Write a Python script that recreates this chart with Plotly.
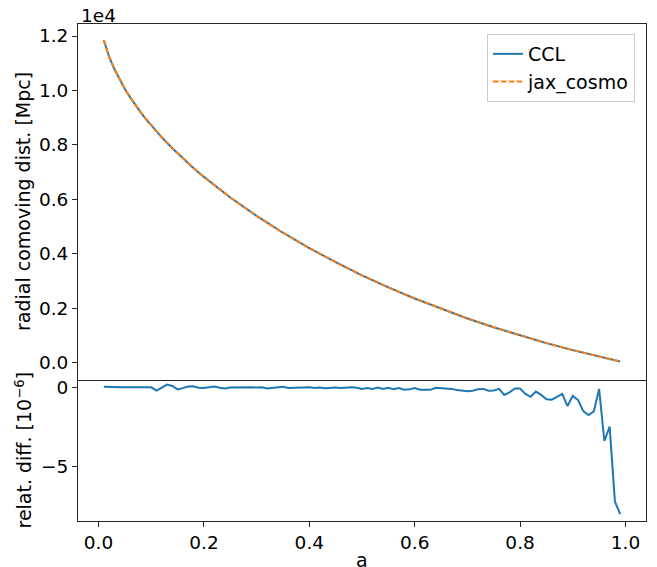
import plotly.graph_objects as go
from plotly.subplots import make_subplots

# ---- data ----
a_top = [0.01, 0.02, 0.03, 0.04, 0.05, 0.06, 0.07, 0.08, 0.09, 0.10,
         0.12, 0.14, 0.16, 0.18, 0.20, 0.25, 0.30, 0.35, 0.40, 0.45,
         0.50, 0.55, 0.60, 0.65, 0.70, 0.75, 0.80, 0.85, 0.90, 0.95, 0.99]
chi_ccl = [11845.5, 11245.8, 10785.6, 10397.7, 10055.9, 9746.9, 9462.9, 9198.5, 8950.2, 8715.5,
           8279.0, 7878.0, 7505.1, 7155.4, 6825.3, 6068.5, 5391.0, 4774.8, 4210.6, 3690.9,
           3211.2, 2767.6, 2357.1, 1977.2, 1625.6, 1300.3, 999.1, 720.2, 461.8, 222.3, 43.1]
chi_jax = [11845.5, 11245.8, 10785.6, 10397.7, 10055.9, 9746.9, 9462.9, 9198.5, 8950.2, 8715.5,
           8279.0, 7878.0, 7505.1, 7155.4, 6825.3, 6068.5, 5391.0, 4774.8, 4210.6, 3690.9,
           3211.2, 2767.6, 2357.1, 1977.2, 1625.6, 1300.3, 999.1, 720.2, 461.8, 222.3, 43.1]

a_diff = [round(0.01 * k, 2) for k in range(1, 100)]
rel_diff = [0.03, 0.01, 0.01, 0.01, 0.01, 0.01, 0.01, 0.01, 0.01, 0.0,
            -0.21, 0.0, 0.17, 0.08, -0.13, -0.05, 0.05, 0.06, -0.03, -0.05,
            0.0, 0.05, -0.03, -0.07, -0.01, 0.0, -0.02, -0.01, 0.0, -0.01,
            0.0, -0.08, -0.05, 0.0, 0.03, -0.04, -0.03, -0.02, -0.03, 0.0,
            -0.05, -0.02, -0.06, -0.03, -0.02, -0.05, -0.02, 0.0, -0.03, -0.1,
            -0.05, -0.1, -0.02, -0.1, -0.03, -0.12, -0.05, -0.15, -0.13, -0.05,
            -0.15, -0.14, -0.16, -0.03, -0.05, -0.06, -0.1, -0.17, -0.22, -0.25,
            -0.22, -0.12, -0.1, -0.22, -0.2, -0.1, -0.48, -0.32, -0.07, -0.08,
            -0.42, -0.6, -0.27, -0.48, -0.76, -0.78, -0.6, -0.42, -1.18, -0.53,
            -0.8, -1.5, -1.75, -1.52, -0.1, -3.38, -2.48, -7.2, -7.98]

x_ticks = [0.0, 0.2, 0.4, 0.6, 0.8, 1.0]
y_top_ticks = [0.0, 0.2, 0.4, 0.6, 0.8, 1.0, 1.2]
y_bot_ticks = [0, -5]
offset = 1e4

BLUE = "#1f77b4"
ORANGE = "#ff7f0e"
FONT = "DejaVu Sans"
AX = "#262626"

# the page body adds an 8 px margin, so the figure is 8 px smaller
PAGE = 8
W, H = 657 - PAGE, 567 - PAGE
L, R, T, B = 78 - PAGE, 11, 24 - PAGE, 46
PH = H - T - B
split = (521 - 380) / PH

fig = make_subplots(rows=2, cols=1, shared_xaxes=True, vertical_spacing=0,
                    row_heights=[1 - split, split])

fig.add_trace(go.Scatter(x=a_top, y=[v / offset for v in chi_ccl], mode="lines",
                         name="CCL", line=dict(color=BLUE, width=2)), row=1, col=1)
fig.add_trace(go.Scatter(x=a_top, y=[v / offset for v in chi_jax], mode="lines",
                         name="jax_cosmo", line=dict(color=ORANGE, width=2, dash="5.5px,2.4px")),
              row=1, col=1)
fig.add_trace(go.Scatter(x=a_diff, y=rel_diff, mode="lines", showlegend=False,
                         line=dict(color=BLUE, width=2)), row=2, col=1)

axis_common = dict(showline=True, linecolor=AX, linewidth=1, mirror=True,
                   showgrid=False, zeroline=False, ticks="outside", ticklen=5,
                   tickwidth=1, tickcolor=AX,
                   tickfont=dict(family=FONT, size=18.5, color="black"))

fig.update_xaxes(range=[-0.039, 1.039], **axis_common)
fig.update_xaxes(showticklabels=False, ticks="", row=1, col=1)
fig.update_xaxes(tickvals=x_ticks, tickformat=".1f", mirror=False, row=2, col=1)
fig.update_yaxes(**axis_common)
fig.update_yaxes(range=[-0.0635, 1.2441], tickvals=y_top_ticks, tickformat=".1f", row=1, col=1)
fig.update_yaxes(range=[-8.419, 0.46], tickvals=y_bot_ticks, tickformat="d", row=2, col=1)

fig.update_layout(
    width=W, height=H,
    margin=dict(l=L, r=R, t=T, b=B, pad=0),
    paper_bgcolor="white", plot_bgcolor="white",
    font=dict(family=FONT, size=19, color="black"),
    legend=dict(x=(635 - 78) / (W - L - R), y=(521 - 34) / PH,
                xanchor="right", yanchor="top",
                bgcolor="rgba(255,255,255,0.8)", bordercolor="#cccccc", borderwidth=1,
                font=dict(family=FONT, size=19, color="black")),
)

top_center = 1 - (1 - split) / 2
fig.add_annotation(text="radial comoving dist. [Mpc]", xref="paper", yref="paper",
                   x=0, y=top_center, xanchor="center", yanchor="middle",
                   xshift=-55, textangle=-90, showarrow=False,
                   font=dict(family=FONT, size=19, color="black"))
fig.add_annotation(text="relat. diff. [10<sup>−6</sup>]", xref="paper", yref="paper",
                   x=0, y=split / 2, xanchor="center", yanchor="middle",
                   xshift=-55, textangle=-90, showarrow=False,
                   font=dict(family=FONT, size=19, color="black"))
fig.add_annotation(text="a", xref="paper", yref="paper", x=0.5, y=0,
                   xanchor="center", yanchor="middle", yshift=-39, showarrow=False,
                   font=dict(family=FONT, size=19, color="black"))
fig.add_annotation(text="1e4", xref="paper", yref="paper", x=0, y=1,
                   xanchor="left", yanchor="middle", xshift=1, yshift=9, showarrow=False,
                   font=dict(family=FONT, size=18.5, color="black"))

fig.write_html("out.html")
